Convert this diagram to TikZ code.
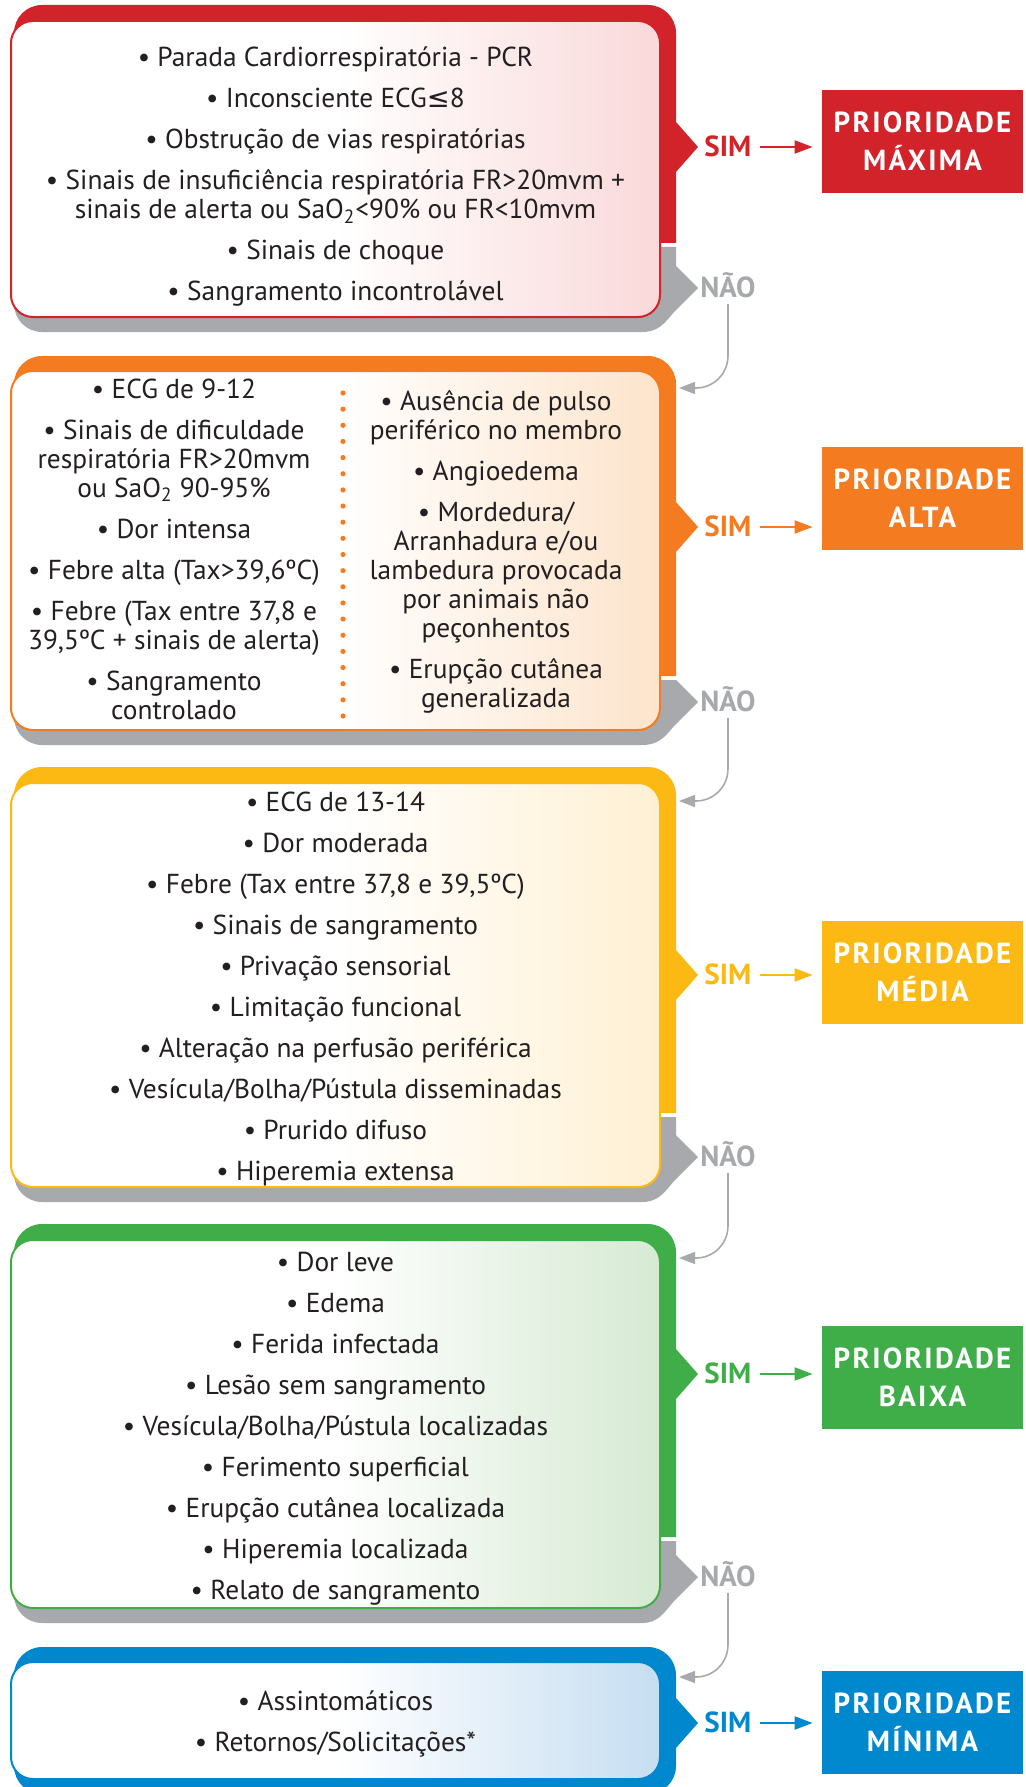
\documentclass[tikz,border=0pt]{standalone}
\usepackage{fontspec}
\setmainfont{PT Sans}
\newfontfamily\symfont{DejaVu Sans}
\newfontfamily\headfont{PT Sans}[LetterSpace=8]
\usetikzlibrary{positioning,arrows.meta}

\definecolor{ink}{HTML}{231F20}
\definecolor{naocol}{HTML}{A7A9AC}
\definecolor{maxcol}{HTML}{D2232A}
\definecolor{maxtint}{HTML}{FAD9DA}
\definecolor{altacol}{HTML}{F47B20}
\definecolor{altatint}{HTML}{FDE4CC}
\definecolor{mediacol}{HTML}{FDB913}
\definecolor{mediatint}{HTML}{FFF0D3}
\definecolor{baixacol}{HTML}{3FAE49}
\definecolor{baixatint}{HTML}{D6EAD3}
\definecolor{mincol}{HTML}{0088CE}
\definecolor{mintint}{HTML}{C6DEF2}

\begin{document}
\begin{tikzpicture}[x=0.5pt,y=0.5pt,
  inbox/.style={draw=#1col,line width=1pt,rounded corners=11pt,left color=white,right color=#1tint,middle color=white,minimum width=324.5pt,inner sep=0pt},
  items/.style={align=center,inner sep=0pt,text=ink,font=\fontsize{13.7}{14.5}\selectfont,execute at begin node=\strut},
  sim/.style={text=#1col,font=\fontsize{14.5}{16}\selectfont\bfseries,inner sep=0pt,text height=9.8pt,text depth=0pt},
  nao/.style={text=naocol,font=\fontsize{14.5}{16}\selectfont\bfseries,inner sep=0pt,text height=9.8pt,text depth=0pt},
  prio/.style={fill=#1col,text=white,font=\fontsize{14.5}{19}\headfont\bfseries,align=center,minimum width=100.5pt,minimum height=51.5pt,inner sep=0pt},
  simline/.style={draw=#1col,line width=1pt,-{Triangle[length=9pt,width=6.5pt]},shorten <=4pt,shorten >=4.5pt},
  naoline/.style={draw=naocol,line width=0.8pt,-{Triangle[length=8pt,width=6pt]},rounded corners=16pt,shorten <=3pt},
  dotline/.style={draw=altacol,line width=2.6pt,line cap=round,dash pattern=on 0pt off 8.075pt}]

\useasboundingbox (0,0) rectangle (1026,-1787);

\fill[maxcol] (14,-243) -- (14,-33) arc[start angle=180,end angle=90,radius=14pt] -- (648,-5) arc[start angle=90,end angle=0,radius=14pt] -- (676,-122) -- (698,-147) -- (676,-172) -- (676,-243) -- cycle;
\fill[naocol] (14,-247) -- (676,-247) -- (676,-266) -- (698,-288) -- (674,-312) .. controls (664,-324) and (658,-332) .. (642,-332) -- (42,-332) arc[start angle=270,end angle=180,radius=14pt] -- cycle;

\fill[altacol] (14,-676) -- (14,-384) arc[start angle=180,end angle=90,radius=14pt] -- (648,-356) arc[start angle=90,end angle=0,radius=14pt] -- (676,-502) -- (698,-527) -- (676,-552) -- (676,-676) -- cycle;
\fill[naocol] (14,-680) -- (676,-680) -- (698,-702) -- (674,-726) .. controls (664,-738) and (658,-745) .. (642,-745) -- (42,-745) arc[start angle=270,end angle=180,radius=14pt] -- cycle;

\fill[mediacol] (14,-1113) -- (14,-795) arc[start angle=180,end angle=90,radius=14pt] -- (648,-767) arc[start angle=90,end angle=0,radius=14pt] -- (676,-950) -- (698,-975) -- (676,-1000) -- (676,-1113) -- cycle;
\fill[naocol] (14,-1117) -- (676,-1117) -- (676,-1135) -- (698,-1157) -- (674,-1181) .. controls (664,-1193) and (658,-1202) .. (642,-1202) -- (42,-1202) arc[start angle=270,end angle=180,radius=14pt] -- cycle;

\fill[baixacol] (14,-1537) -- (14,-1252) arc[start angle=180,end angle=90,radius=14pt] -- (648,-1224) arc[start angle=90,end angle=0,radius=14pt] -- (676,-1349) -- (698,-1374) -- (676,-1399) -- (676,-1537) -- cycle;
\fill[naocol] (14,-1541) -- (676,-1541) -- (676,-1555) -- (698,-1577) -- (674,-1601) .. controls (664,-1613) and (658,-1623) .. (642,-1623) -- (42,-1623) arc[start angle=270,end angle=180,radius=14pt] -- cycle;

\fill[mincol] (14,-1675) arc[start angle=180,end angle=90,radius=14pt] -- (648,-1647) arc[start angle=90,end angle=0,radius=14pt] -- (676,-1698) -- (698,-1723) -- (676,-1748) -- (676,-1766) arc[start angle=0,end angle=-90,radius=14pt] -- (42,-1794) arc[start angle=270,end angle=180,radius=14pt] -- cycle;

\node[inbox=max,minimum height=148pt]     (maxb)   at (335.5,-169)    {};
\node[inbox=alta,minimum height=179.5pt]  (altab)  at (335.5,-550.5)  {};
\node[inbox=media,minimum height=202pt]   (mediab) at (335.5,-985)    {};
\node[inbox=baixa,minimum height=184pt]   (baixab) at (335.5,-1424)   {};
\node[inbox=min,minimum height=58.5pt]    (minb)   at (335.5,-1720.5) {};

\node[items] (maxt) [below=13.35pt of maxb.north] {• Parada Cardiorrespiratória - PCR\\[6pt]
  • Inconsciente ECG{\symfont ≤}8\\[6pt]
  • Obstrução de vias respiratórias\\[6pt]
  • Sinais de insuficiência respiratória FR>20mvm +\\sinais de alerta ou SaO\textsubscript{2}<90\% ou FR<10mvm\\[6pt]
  • Sinais de choque\\[6pt]
  • Sangramento incontrolável};

\node[items,anchor=north] (altal) at (174,-378.7) {• ECG de 9-12\\[6pt]
  • Sinais de dificuldade\\respiratória FR>20mvm\\ou SaO\textsubscript{2} 90-95\%\\[6pt]
  • Dor intensa\\[6pt]
  • Febre alta (Tax>39,6ºC)\\[6pt]
  • Febre (Tax entre 37,8 e\\39,5ºC + sinais de alerta)\\[6pt]
  • Sangramento\\controlado};
\node[items,anchor=north] (altar) at (496,-389.7) {• Ausência de pulso\\periférico no membro\\[6pt]
  • Angioedema\\[6pt]
  • Mordedura/\\Arranhadura e/ou\\lambedura provocada\\por animais não\\peçonhentos\\[6pt]
  • Erupção cutânea\\generalizada};
\draw[dotline] (343,-393) -- (343,-716);

\node[items] (mediat) [below=4.85pt of mediab.north] {• ECG de 13-14\\[6pt]
  • Dor moderada\\[6pt]
  • Febre (Tax entre 37,8 e 39,5ºC)\\[6pt]
  • Sinais de sangramento\\[6pt]
  • Privação sensorial\\[6pt]
  • Limitação funcional\\[6pt]
  • Alteração na perfusão periférica\\[6pt]
  • Vesícula/Bolha/Pústula disseminadas\\[6pt]
  • Prurido difuso\\[6pt]
  • Hiperemia extensa};

\node[items] (baixat) [below=6.35pt of baixab.north] {• Dor leve\\[6pt]
  • Edema\\[6pt]
  • Ferida infectada\\[6pt]
  • Lesão sem sangramento\\[6pt]
  • Vesícula/Bolha/Pústula localizadas\\[6pt]
  • Ferimento superficial\\[6pt]
  • Erupção cutânea localizada\\[6pt]
  • Hiperemia localizada\\[6pt]
  • Relato de sangramento};

\node[items] (mint) [below=14.85pt of minb.north] {• Assintomáticos\\[6pt]
  • Retornos/Solicitações*};

\node[prio=max]   (maxp)   at (922.5,-141.5)  {PRIORIDADE\\MÁXIMA};
\node[prio=alta]  (altap)  at (922.5,-498.5)  {PRIORIDADE\\ALTA};
\node[prio=media] (mediap) at (922.5,-972)    {PRIORIDADE\\MÉDIA};
\node[prio=baixa] (baixap) at (922.5,-1377)   {PRIORIDADE\\BAIXA};
\node[prio=min]   (minp)   at (922.5,-1722.5) {PRIORIDADE\\MÍNIMA};

\coordinate (maxtip)   at (698,-147);
\coordinate (altatip)  at (698,-527);
\coordinate (mediatip) at (698,-975);
\coordinate (baixatip) at (698,-1374);
\coordinate (mintip)   at (698,-1723);

\node[sim=max]   (maxsim)   [right=3pt of maxtip]   {SIM};
\node[sim=alta]  (altasim)  [right=3pt of altatip]  {SIM};
\node[sim=media] (mediasim) [right=3pt of mediatip] {SIM};
\node[sim=baixa] (baixasim) [right=3pt of baixatip] {SIM};
\node[sim=min]   (minsim)   [right=3pt of mintip]   {SIM};

\draw[simline=max]   (maxsim.east)   -- (maxsim.east -| maxp.west);
\draw[simline=alta]  (altasim.east)  -- (altasim.east -| altap.west);
\draw[simline=media] (mediasim.east) -- (mediasim.east -| mediap.west);
\draw[simline=baixa] (baixasim.east) -- (baixasim.east -| baixap.west);
\draw[simline=min]   (minsim.east)   -- (minsim.east -| minp.west);

\coordinate (maxno)   at (698,-288);
\coordinate (altano)  at (698,-702);
\coordinate (mediano) at (698,-1157);
\coordinate (baixano) at (698,-1577);

\node[nao] (maxnao)   [right=1pt of maxno]   {NÃO};
\node[nao] (altanao)  [right=1pt of altano]  {NÃO};
\node[nao] (medianao) [right=1pt of mediano] {NÃO};
\node[nao] (baixanao) [right=1pt of baixano] {NÃO};

\coordinate (altain)  at (679,-388);
\coordinate (mediain) at (679,-801);
\coordinate (baixain) at (679,-1258);
\coordinate (minin)   at (679,-1677);

\draw[naoline] (maxnao)   |- (altain);
\draw[naoline] (altanao)  |- (mediain);
\draw[naoline] (medianao) |- (baixain);
\draw[naoline] (baixanao) |- (minin);

\end{tikzpicture}
\end{document}
